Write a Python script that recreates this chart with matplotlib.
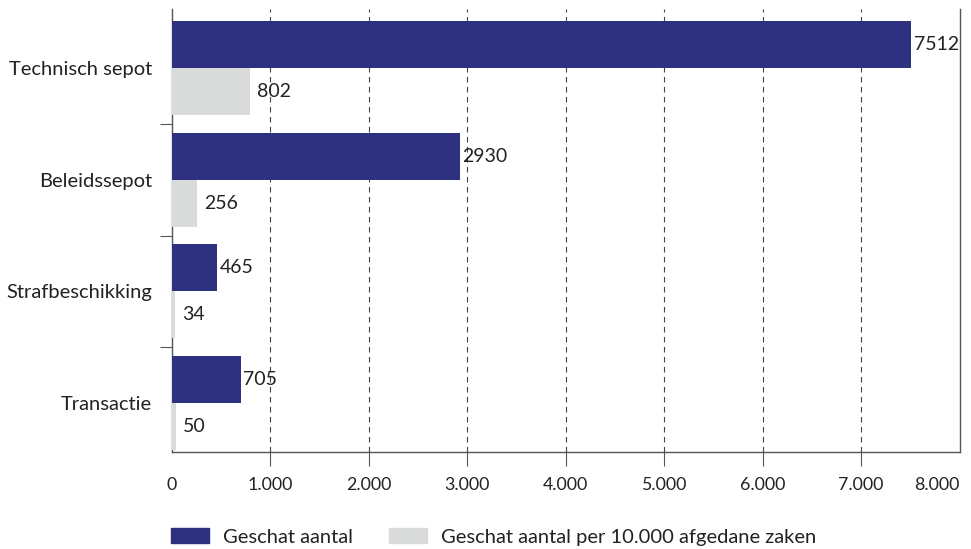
import numpy as np
import matplotlib
matplotlib.use("Agg")
import matplotlib.pyplot as plt
from matplotlib.patches import Patch
from matplotlib.ticker import FuncFormatter, FixedLocator

categories = ["Technisch sepot", "Beleidssepot", "Strafbeschikking", "Transactie"]
geschat = [7512, 2930, 465, 705]
per_10000 = [802, 256, 34, 50]
series_names = ["Geschat aantal", "Geschat aantal per 10.000 afgedane zaken"]

DARK = "#2E3180"
GREY = "#D9DADA"
TXT = "#222222"
plt.rcParams["font.family"] = ["Lato", "DejaVu Sans"]
FS_CAT = 14.5
FS_VAL = 14
FS_TICK = 12.8

fig = plt.figure(figsize=(9.71, 5.49), dpi=100)
ax = fig.add_axes([171.5 / 971, 1 - 452 / 549, (959.5 - 171.5) / 971, (452 - 9) / 549])

y = np.arange(len(categories))
h = 0.42
ax.barh(y - h / 2, geschat, height=h, color=DARK, zorder=3)
ax.barh(y + h / 2, per_10000, height=h, color=GREY, zorder=3)

for yi, v in zip(y, geschat):
    ax.annotate(str(v), (v, yi - h / 2), xytext=(1.5, 0), textcoords="offset points",
                va="center", ha="left", fontsize=FS_VAL, color=TXT)
for yi, v in zip(y, per_10000):
    ax.annotate(str(v), (v, yi + h / 2), xytext=(5, 0), textcoords="offset points",
                va="center", ha="left", fontsize=FS_VAL, color=TXT)

ax.set_xlim(0, 8000)
ax.set_ylim(3.44, -0.53)
ax.set_xticks(range(0, 8001, 1000))
ax.xaxis.set_major_formatter(FuncFormatter(lambda v, p: f"{int(v):,}".replace(",", ".")))
ax.tick_params(axis="x", length=10, width=0.8, color="#555555", labelsize=FS_TICK,
               labelcolor=TXT, pad=8)
ax.set_yticks(y)
ax.set_yticklabels(categories, fontsize=FS_CAT, color=TXT)
ax.tick_params(axis="y", length=0, pad=14)
ax.yaxis.set_minor_locator(FixedLocator([0.5, 1.5, 2.5]))
ax.tick_params(axis="y", which="minor", length=9, width=0.8, color="#555555")

# no tick marks at the ends, last label kept inside the figure
fig.canvas.draw()
xt = ax.xaxis.get_major_ticks()
xt[0].tick1line.set_visible(False)
xt[-1].tick1line.set_visible(False)
ax.get_xticklabels()[-1].set_horizontalalignment("right")

for x in range(1000, 8000, 1000):
    ax.axvline(x, color="#444444", lw=0.8, ls=(0, (5, 4)), zorder=1)

ax.spines["top"].set_visible(False)
for s in ["left", "bottom", "right"]:
    ax.spines[s].set_color("#555555")
    ax.spines[s].set_linewidth(1.0)

handles = [Patch(color=DARK), Patch(color=GREY)]
fig.legend(handles, series_names, loc="center left", bbox_to_anchor=(171 / 971, 1 - 537 / 549),
           ncol=2, frameon=False, fontsize=FS_CAT, handlelength=1.9, handleheight=0.75,
           handletextpad=0.7, columnspacing=1.75, borderpad=0, borderaxespad=0,
           labelcolor=TXT)

fig.savefig("out.png", dpi=100)
